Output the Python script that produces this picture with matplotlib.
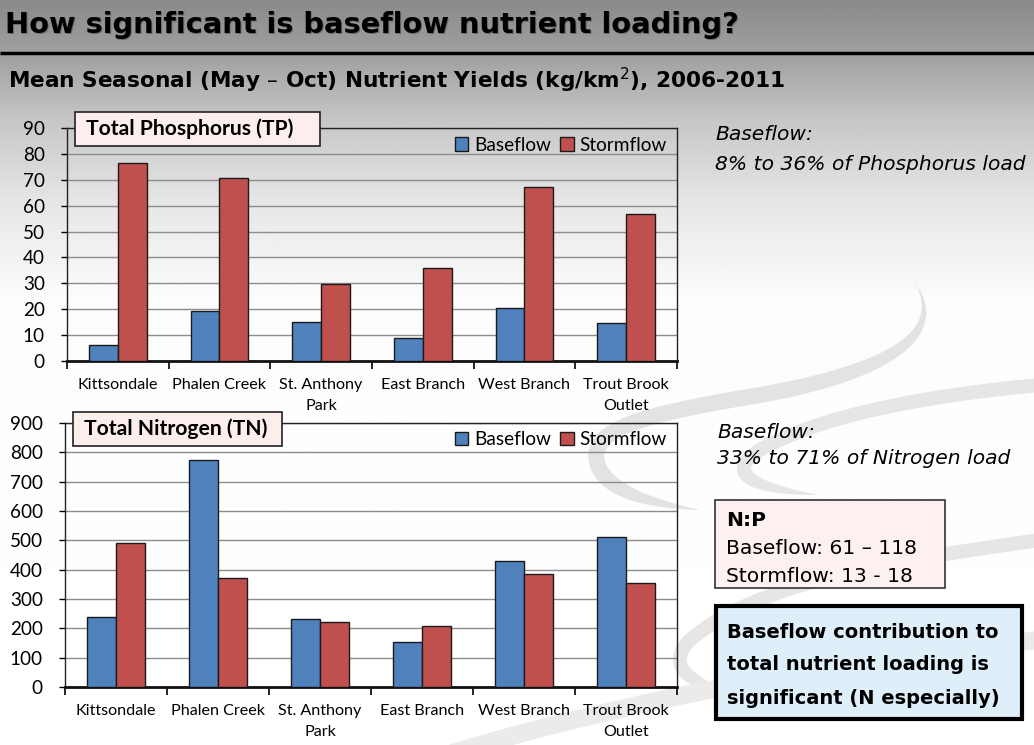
import numpy as np
import matplotlib
matplotlib.use("Agg")
import matplotlib.pyplot as plt
from matplotlib.patches import Rectangle

# ---------------- data ----------------
sites = ["Kittsondale", "Phalen Creek", "St. Anthony\nPark", "East Branch",
         "West Branch", "Trout Brook\nOutlet"]
tp_base = [6.1, 19.3, 15.0, 8.9, 20.4, 14.6]
tp_storm = [76.5, 70.5, 29.7, 36.1, 67.3, 56.8]
tn_base = [237, 774, 231, 153, 428, 510]
tn_storm = [491, 370, 220, 207, 385, 353]
tp_ticks = list(range(0, 91, 10))
tn_ticks = list(range(0, 901, 100))
series_names = ["Baseflow", "Stormflow"]

BLUE = "#4f81bd"
RED = "#c0504d"
W, H = 1034, 745
CH_FONT = ["Lato", "DejaVu Sans"]
SL_FONT = ["DejaVu Sans"]

fig = plt.figure(figsize=(W / 100, H / 100), dpi=100)

# background axes (pixel coordinates)
bg = fig.add_axes([0, 0, 1, 1], zorder=-10)
bg.set_xlim(0, W)
bg.set_ylim(H, 0)
bg.axis("off")
yy = np.linspace(0, 1, 400)
vals = np.interp(yy * H, [0, 60, 120, 200, 300, 745], [0.54, 0.64, 0.78, 0.90, 0.99, 1.0])
grad = np.repeat(vals[:, None], 2, axis=1)
bg.imshow(grad, cmap="gray", vmin=0, vmax=1, extent=[0, W, H, 0], aspect="auto",
          interpolation="bilinear")


def bez(p, n=80):
    p = np.asarray(p, float)
    t = np.linspace(0, 1, n)[:, None]
    return ((1 - t) ** 3 * p[0] + 3 * (1 - t) ** 2 * t * p[1]
            + 3 * (1 - t) * t ** 2 * p[2] + t ** 3 * p[3])


def swoosh(ax, segs, wmax, color, taper=(True, True)):
    c = np.vstack([bez(s) for s in segs])
    d = np.gradient(c, axis=0)
    nrm = np.stack([-d[:, 1], d[:, 0]], axis=1)
    nrm /= np.linalg.norm(nrm, axis=1)[:, None] + 1e-9
    t = np.linspace(0, 1, len(c))
    prof = np.ones_like(t)
    if taper[0]:
        prof *= np.clip(t / 0.35, 0, 1)
    if taper[1]:
        prof *= np.clip((1 - t) / 0.35, 0, 1)
    prof = np.sin(prof * np.pi / 2) * wmax / 2
    a = c + nrm * prof[:, None]
    b = c - nrm * prof[:, None]
    poly = np.vstack([a, b[::-1]])
    ax.fill(poly[:, 0], poly[:, 1], color=color, lw=0, zorder=1)


# decorative swooshes
swoosh(bg, [[(915, 283), (945, 330), (900, 370), (760, 395)],
            [(760, 395), (640, 415), (580, 430), (600, 470)],
            [(600, 470), (615, 495), (660, 505), (700, 510)]], 16, "#e3e3e3")
swoosh(bg, [[(1040, 385), (930, 395), (820, 415), (760, 450)],
            [(760, 450), (720, 475), (760, 490), (820, 495)]], 14, "#e6e6e6", (False, True))
swoosh(bg, [[(1040, 540), (900, 560), (760, 580), (690, 640)],
            [(690, 640), (660, 670), (700, 690), (760, 700)]], 14, "#e6e6e6", (False, True))
swoosh(bg, [[(1040, 640), (850, 660), (620, 700), (430, 760)]], 18, "#ebebeb", (False, False))


def draw_chart(rect, base, storm, ticks, ymax):
    ax = fig.add_axes(rect)
    ax.set_facecolor("none")
    x = np.arange(len(sites))
    w = 0.285
    ax.bar(x - w / 2, base, w, color=BLUE, edgecolor="#1a1a1a", linewidth=1.0,
           label=series_names[0], zorder=3)
    ax.bar(x + w / 2, storm, w, color=RED, edgecolor="#1a1a1a", linewidth=1.0,
           label=series_names[1], zorder=3)
    ax.set_xlim(-0.5, len(sites) - 0.5)
    ax.set_ylim(0, ymax)
    ax.set_yticks(ticks)
    ax.set_yticklabels([str(t) for t in ticks], fontsize=13.6, family=CH_FONT)
    ax.set_xticks(x)
    ax.set_xticklabels(sites, fontsize=11.6, family=CH_FONT, linespacing=1.6)
    ax.tick_params(axis="x", length=0, pad=12.5)
    ax.set_xticks(np.arange(-0.5, len(sites), 1.0), minor=True)
    ax.tick_params(axis="x", which="minor", length=6, width=1.2, direction="out")
    ax.tick_params(axis="y", length=4, width=1, direction="out", pad=12)
    ax.yaxis.grid(True, color="#8c8c8c", linewidth=1.0, zorder=0)
    ax.set_axisbelow(True)
    for s in ["left", "right", "top"]:
        ax.spines[s].set_color("#222222")
        ax.spines[s].set_linewidth(1.0)
    ax.spines["bottom"].set_linewidth(2.0)
    ax.spines["bottom"].set_color("#111111")
    leg = ax.legend(loc="upper right", bbox_to_anchor=(1.0, 1.008), ncol=2, frameon=False,
                    prop={"family": CH_FONT, "size": 13.7}, handlelength=0.7,
                    handleheight=0.7, handletextpad=0.3, columnspacing=0.5,
                    borderaxespad=0.15)
    for h in leg.legend_handles:
        h.set_edgecolor("#1a1a1a")
    return ax


draw_chart([67 / W, 1 - 361 / H, 610 / W, 233 / H], tp_base, tp_storm, tp_ticks, 90)
draw_chart([65 / W, 1 - 687 / H, 612 / W, 264 / H], tn_base, tn_storm, tn_ticks, 900)

# overlay (pixel coordinates)
ov = fig.add_axes([0, 0, 1, 1], zorder=10)
ov.set_xlim(0, W)
ov.set_ylim(H, 0)
ov.axis("off")
ov.set_facecolor("none")

# title and rule
title = "How significant is baseflow nutrient loading?"
ov.text(6.5, 26.5, title, fontsize=20.8, fontweight="bold", family=SL_FONT,
        color="#6a6a6a", va="center", ha="left")
ov.text(5, 25, title, fontsize=20.8, fontweight="bold", family=SL_FONT,
        color="black", va="center", ha="left")
ov.plot([0, W], [53, 53], color="black", linewidth=2.5, solid_capstyle="butt")
ov.text(8, 80, "Mean Seasonal (May – Oct) Nutrient Yields (kg/km$^2$), 2006-2011",
        fontsize=15.6, fontweight="bold", family=SL_FONT, color="black", va="center")

# chart title boxes
ov.add_patch(Rectangle((75, 112), 245, 34, facecolor="#fdeeee", edgecolor="#222222",
                       linewidth=1.2))
ov.text(86, 129, "Total Phosphorus (TP)", fontsize=15.2, fontweight="bold", family=CH_FONT,
        va="center", ha="left")
ov.add_patch(Rectangle((73, 412), 209, 34, facecolor="#fdeeee", edgecolor="#222222",
                       linewidth=1.2))
ov.text(84, 429, "Total Nitrogen (TN)", fontsize=15.2, fontweight="bold", family=CH_FONT,
        va="center", ha="left")

# right side notes
ov.text(715, 135, "Baseflow:", fontsize=14.6, fontstyle="italic", family=SL_FONT, va="center")
ov.text(715, 164, "8% to 36% of Phosphorus load", fontsize=14.6, fontstyle="italic",
        family=SL_FONT, va="center")
ov.text(717, 432, "Baseflow:", fontsize=14.6, fontstyle="italic", family=SL_FONT, va="center")
ov.text(717, 459, "33% to 71% of Nitrogen load", fontsize=14.6, fontstyle="italic",
        family=SL_FONT, va="center")

ov.add_patch(Rectangle((715, 500), 230, 88, facecolor="#fdf0f0", edgecolor="#333333",
                       linewidth=1.2))
ov.text(726, 521, "N:P", fontsize=14.6, fontweight="bold", family=SL_FONT, va="center")
ov.text(726, 549, "Baseflow: 61 – 118", fontsize=14.6, family=SL_FONT, va="center")
ov.text(726, 576, "Stormflow: 13 - 18", fontsize=14.6, family=SL_FONT, va="center")

ov.add_patch(Rectangle((716, 606), 306, 113, facecolor="#dfeffa", edgecolor="black",
                       linewidth=3))
for i, line in enumerate(["Baseflow contribution to", "total nutrient loading is",
                          "significant (N especially)"]):
    ov.text(727, 632 + i * 33, line, fontsize=14, fontweight="bold", family=SL_FONT,
            va="center")

fig.savefig("out.png", dpi=100)
